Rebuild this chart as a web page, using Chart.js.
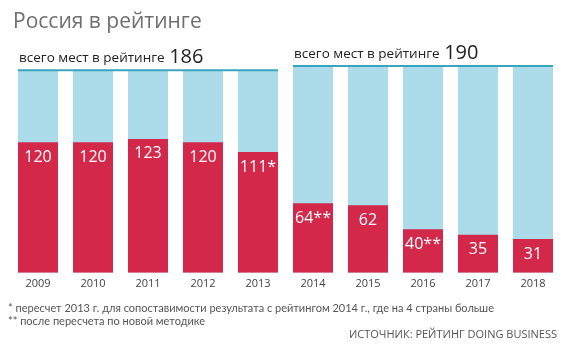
<!DOCTYPE html>
<html>
<head>
<meta charset="utf-8">
<script src="https://cdn.jsdelivr.net/npm/chart.js@4.4.0/dist/chart.umd.min.js"></script>
<style>
  html, body { margin: 0; padding: 0; background: #fff; }
  #wrap { width: 570px; height: 351px; position: relative; }
</style>
</head>
<body>
<div id="wrap"><canvas id="rankChart" width="570" height="351"></canvas></div>
<script>
// chart data
const years = ["2009", "2010", "2011", "2012", "2013", "2014", "2015", "2016", "2017", "2018"];
const ranks = [120, 120, 123, 120, 111, 64, 62, 40, 35, 31];
const rankLabels = ["120", "120", "123", "120", "111*", "64**", "62", "40**", "35", "31"];
const totals = [186, 186, 186, 186, 186, 190, 190, 190, 190, 190];
const groups = [
  { from: 0, to: 4, total: 186 },
  { from: 5, to: 9, total: 190 }
];

const FONT = "'Open Sans', 'Noto Sans', sans-serif";
const NOTE_FONT = "Lato, 'Open Sans', sans-serif";
const RED = "#d4284b";
const BLUE = "#acdcea";
const LINE = "#3aa4ba";

// draws title, group headers, top lines, value labels and footnotes
const decorPlugin = {
  id: "decor",
  afterDatasetsDraw(chart) {
    const ctx = chart.ctx;
    const y = chart.scales.y;
    const bars = chart.getDatasetMeta(1).data;

    ctx.save();
    // title
    ctx.fillStyle = "#6f6f6f";
    ctx.font = "21px " + FONT;
    ctx.textBaseline = "alphabetic";
    ctx.textAlign = "left";
    ctx.fillText("Россия в рейтинге", 13, 28);

    // group lines + headers
    groups.forEach((g) => {
      const left = bars[g.from].x - bars[g.from].width / 2;
      const right = bars[g.to].x + bars[g.to].width / 2;
      const top = y.getPixelForValue(g.total);
      ctx.strokeStyle = LINE;
      ctx.lineWidth = 2;
      ctx.beginPath();
      ctx.moveTo(left, top);
      ctx.lineTo(right, top);
      ctx.stroke();

      ctx.fillStyle = "#222";
      ctx.font = "13.5px " + FONT;
      const txt = "всего мест в рейтинге ";
      ctx.fillText(txt, left + 1, top - 8);
      const w = ctx.measureText(txt).width;
      ctx.font = "20px " + FONT;
      ctx.fillText(String(g.total), left + 2 + w, top - 7);
    });

    // value labels in red bars
    const redBars = chart.getDatasetMeta(0).data;
    ctx.fillStyle = "#fff";
    ctx.font = "16px " + FONT;
    ctx.textAlign = "center";
    ctx.textBaseline = "middle";
    redBars.forEach((b, i) => {
      ctx.fillText(rankLabels[i], b.x, b.y + 15);
    });

    // footnotes
    ctx.fillStyle = "#555";
    ctx.textAlign = "left";
    ctx.font = "11px " + NOTE_FONT;
    ctx.fillText("* пересчет 2013 г. для сопоставимости результата с рейтингом 2014 г., где на 4 страны больше", 8, 308);
    ctx.fillText("** после пересчета по новой методике", 8, 321);
    ctx.textAlign = "right";
    ctx.font = "11px " + FONT;
    ctx.fillText("ИСТОЧНИК: РЕЙТИНГ DOING BUSINESS", 557, 335);
    ctx.restore();
  }
};

new Chart(document.getElementById("rankChart").getContext("2d"), {
  type: "bar",
  data: {
    labels: years,
    datasets: [
      {
        label: "Место России",
        data: ranks,
        backgroundColor: RED,
        barPercentage: 0.727,
        categoryPercentage: 1
      },
      {
        label: "Всего мест",
        data: totals,
        backgroundColor: BLUE,
        barPercentage: 0.727,
        categoryPercentage: 1
      }
    ]
  },
  options: {
    responsive: false,
    animation: false,
    layout: { padding: { left: 10.5, right: 9.5, top: 66, bottom: 57 } },
    plugins: {
      legend: { display: false },
      tooltip: { enabled: false }
    },
    scales: {
      x: {
        stacked: true,
        grid: { display: false, drawTicks: false },
        border: { display: false },
        ticks: { color: "#444", font: { family: FONT, size: 11 }, padding: 4 }
      },
      y: {
        stacked: false,
        display: false,
        min: 0,
        max: 190
      }
    }
  },
  plugins: [decorPlugin]
});
</script>
</body>
</html>
